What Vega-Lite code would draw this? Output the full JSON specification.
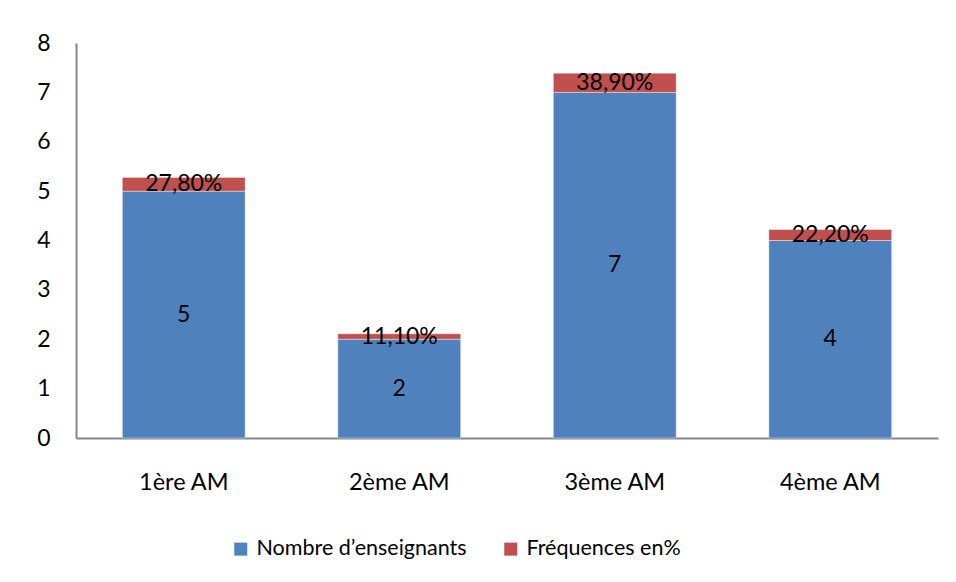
{
  "$schema": "https://vega.github.io/schema/vega-lite/v6.json",
  "width": 862,
  "height": 395,
  "autosize": {"type": "none"},
  "padding": {"left": 76, "top": 43, "right": 18, "bottom": 144},
  "background": "white",
  "config": {
    "font": "Lato",
    "view": {"stroke": null},
    "axis": {"grid": false, "ticks": false, "domainColor": "#868686", "domainWidth": 2, "labelFont": "Lato", "labelFontSize": 23, "labelColor": "#000000", "labelOverlap": false}
  },
  "data": {
    "values": [
      {"classe": "1ère AM", "serie": "Nombre d’enseignants", "ordre": 1, "valeur": 5, "etiquette": "5"},
      {"classe": "1ère AM", "serie": "Fréquences en%", "ordre": 2, "valeur": 0.278, "etiquette": "27,80%"},
      {"classe": "2ème AM", "serie": "Nombre d’enseignants", "ordre": 1, "valeur": 2, "etiquette": "2"},
      {"classe": "2ème AM", "serie": "Fréquences en%", "ordre": 2, "valeur": 0.111, "etiquette": "11,10%"},
      {"classe": "3ème AM", "serie": "Nombre d’enseignants", "ordre": 1, "valeur": 7, "etiquette": "7"},
      {"classe": "3ème AM", "serie": "Fréquences en%", "ordre": 2, "valeur": 0.389, "etiquette": "38,90%"},
      {"classe": "4ème AM", "serie": "Nombre d’enseignants", "ordre": 1, "valeur": 4, "etiquette": "4"},
      {"classe": "4ème AM", "serie": "Fréquences en%", "ordre": 2, "valeur": 0.222, "etiquette": "22,20%"}
    ]
  },
  "encoding": {
    "x": {
      "field": "classe", "type": "nominal", "title": null, "sort": null,
      "scale": {"paddingInner": 0.43, "paddingOuter": 0.215},
      "axis": {"labelAngle": 0, "labelPadding": 32, "labelFontSize": 23.5, "labelOverlap": false}
    },
    "y": {
      "field": "valeur", "type": "quantitative", "stack": "zero", "title": null,
      "scale": {"domain": [0, 8], "nice": false},
      "axis": {"values": [0,1,2,3,4,5,6,7,8], "labelPadding": 26, "labelFontSize": 23, "labelOverlap": false, "labelFlush": false}
    },
    "order": {"field": "ordre", "type": "quantitative"}
  },
  "layer": [
    {
      "mark": {"type": "bar", "stroke": "#ffffff", "strokeOpacity": 0.4, "strokeWidth": 1},
      "encoding": {
        "color": {
          "field": "serie", "type": "nominal", "title": null,
          "scale": {"domain": ["Nombre d’enseignants", "Fréquences en%"], "range": ["#4F81BD", "#C0504D"]},
          "legend": {
            "orient": "none", "legendX": 154, "legendY": 495, "direction": "horizontal",
            "symbolType": "square", "symbolSize": 169, "symbolStrokeWidth": 0, "symbolOpacity": 1,
            "labelFontSize": 21.5, "labelFont": "Lato", "labelColor": "#000000", "labelLimit": 400, "columnPadding": 33, "labelOffset": 5
          }
        }
      }
    },
    {
      "mark": {"type": "text", "fontSize": 23, "font": "Lato", "color": "#000000", "baseline": "middle"},
      "encoding": {
        "y": {"field": "valeur", "type": "quantitative", "stack": "zero", "bandPosition": 0.5},
        "text": {"field": "etiquette", "type": "nominal"}
      }
    }
  ]
}
